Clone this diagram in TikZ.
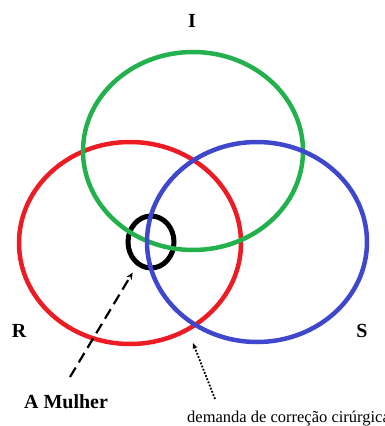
\documentclass[tikz,border=0pt]{standalone}
\usepackage{fontspec}
\setmainfont{Liberation Serif}
\usetikzlibrary{arrows.meta,shapes.geometric}
\definecolor{RingRed}{HTML}{ED1C24}
\definecolor{RingGreen}{HTML}{22B14C}
\definecolor{RingBlue}{HTML}{3F48CC}
\tikzset{
  ring/.style={draw=#1, ellipse, line width=4.5pt, inner sep=0pt,
               minimum width=220pt, minimum height=200pt},
  knot/.style={draw=black, ellipse, line width=5pt, inner sep=0pt,
               minimum width=46pt, minimum height=52pt},
  reg/.style={font=\fontsize{20}{23}\selectfont\bfseries, inner sep=0pt, anchor=base},
  note/.style={font=\fontsize{16.5}{19}\selectfont, inner sep=0pt, anchor=base west},
  mularr/.style={-{Stealth[length=7pt,width=6pt]}, line width=2.2pt,
                 dash pattern=on 11pt off 6pt, shorten >=8pt},
  demarr/.style={-{Stealth[length=6pt,width=5pt]}, line width=1.8pt,
                 dash pattern=on 1.8pt off 1.6pt}
}
\begin{document}
\begin{tikzpicture}[x=1pt, y=-1pt]
\useasboundingbox (0,0) rectangle (384,426);
% the three rings, with the woman's knot
\node[ring=RingRed, minimum width=222pt, minimum height=202pt] (real) at (130,243) {};
\node[knot] (woman) at (151,242) {};
\node[ring=RingGreen, minimum width=220pt, minimum height=198pt] (imag) at (193,151) {};
\node[ring=RingBlue] (simb) at (257,242) {};
% labels
\node[reg] (li) at (192,27) {I};
\node[reg] (lr) at (19,337) {R};
\node[reg] (ls) at (362,337) {S};
\node[reg] (mulher) at (66,408) {A Mulher};
\node[note] (demanda) at (187,422) {demanda de correção cirúrgica};
% arrows
\coordinate (mtail) at (70,377);
\coordinate (dtail) at (215,399);
\coordinate (dtip) at (193,343);
\draw[mularr] (mtail) -- (woman);
\draw[demarr] (dtail) -- (dtip);
\end{tikzpicture}
\end{document}
